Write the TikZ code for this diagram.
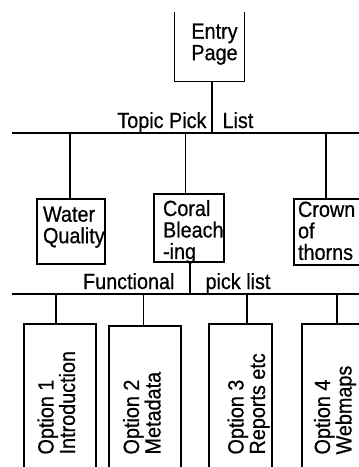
\documentclass[tikz,border=0pt]{standalone}
\usepackage{fontspec}
\setmainfont{Liberation Sans}[FakeStretch=0.9,FakeBold=0.6]
\begin{document}
\begin{tikzpicture}[x=1pt,y=-1pt,
  line width=1.1pt,
  lbl/.style={inner sep=0pt,font=\fontsize{22pt}{21.5pt}\selectfont,align=left},
  box/.style={draw,inner sep=0pt,minimum width=#1},
  boxh/.style={minimum height=#1}
]
\useasboundingbox (0,0) rectangle (359,467);
\clip (0,0) rectangle (359,467);
% bars
\coordinate (b1) at (12,133);
\coordinate (b1e) at (365,133);
\coordinate (b2) at (12,294);
\coordinate (b2e) at (365,294);
\draw (b1) -- (b1e);
\draw (b2) -- (b2e);
% entry page (open top)
\node[inner sep=0pt,minimum width=69,minimum height=68] (entry) at (209.5,47) {};
\draw (entry.north west) -- (entry.south west) -- (entry.south east) -- (entry.north east);
\node[lbl,align=center,anchor=north] (entryt) at (214.5,23) {Entry\\Page};
\draw ([xshift=2.5pt]entry.south) -- ([xshift=2.5pt]entry.south |- b1);
\node[lbl,anchor=base east] (tp) at (207,128) {Topic Pick};
\node[lbl,anchor=base west] (tl) at (222,128) {List};
% topic boxes
\node[box=68,boxh=65] (water) at (71,231.5) {};
\node[lbl,anchor=north west] (watert) at (42.5,206) {Water\\Quality};
\node[box=70,boxh=68] (coral) at (189,228) {};
\node[lbl,anchor=north west] (coralt) at (162.5,199.5) {Coral\\Bleach\\-ing};
\node[box=78,boxh=66] (crown) at (333,232) {};
\node[lbl,anchor=north west] (crownt) at (297.5,201) {Crown\\of\\thorns};
\draw ([xshift=-1pt]water.north) -- ([xshift=-1pt]water.north |- b1);
\draw ([xshift=-3.5pt]coral.north) -- ([xshift=-3.5pt]coral.north |- b1);
\draw ([xshift=-7pt]crown.north) -- ([xshift=-7pt]crown.north |- b1);
\draw ([xshift=1pt]coral.south) -- ([xshift=1pt,yshift=1.5pt]coral.south |- b2);
\node[lbl,anchor=base east] (fn) at (175,289) {Functional};
\node[lbl,anchor=base west] (pl) at (205,289) {pick list};
% option boxes
\node[box=72,boxh=156] (o1) at (60,402) {};
\node[box=72,boxh=154] (o2) at (145,403) {};
\node[box=63,boxh=156] (o3) at (240.5,402) {};
\node[box=70,boxh=156] (o4) at (337,402) {};
\draw ([xshift=-4pt]o1.north) -- ([xshift=-4pt]o1.north |- b2);
\draw ([xshift=-1.5pt]o2.north) -- ([xshift=-1.5pt]o2.north |- b2);
\draw ([xshift=6.5pt]o3.north) -- ([xshift=6.5pt]o3.north |- b2);
\draw (o4.north) -- (o4.north |- b2);
\node[lbl,rotate=90,anchor=north west] (o1t) at (37,455) {Option 1\\Introduction};
\node[lbl,rotate=90,anchor=north west] (o2t) at (122.5,455) {Option 2\\Metadata};
\node[lbl,rotate=90,anchor=north west] (o3t) at (227,455) {Option 3\\Reports etc};
\node[lbl,rotate=90,anchor=north west] (o4t) at (313.5,455) {Option 4\\Webmaps};
\end{tikzpicture}
\end{document}
